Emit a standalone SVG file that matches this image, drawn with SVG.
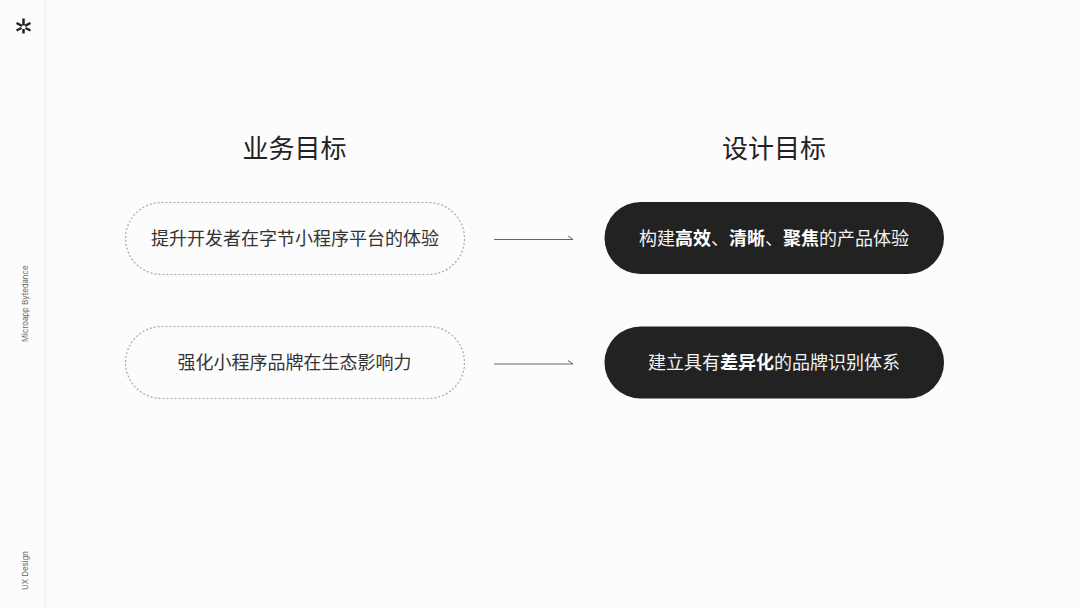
<svg xmlns="http://www.w3.org/2000/svg" width="1080" height="608" viewBox="0 0 1080 608">
<style>
text{font-family:"Noto Sans CJK SC","Liberation Sans",sans-serif}
.h{font-size:26px;fill:#222;text-anchor:middle}
.l{font-size:18px;fill:#333;text-anchor:middle}
.d{font-size:18px;fill:#f2f2f2;text-anchor:middle}
.d tspan{font-weight:700;fill:#fff}
.s{font-family:"Inter","Liberation Sans",sans-serif;font-size:7.800px;fill:#666}
.o{fill:none;stroke:#a8a8a8;stroke-width:1.200;stroke-dasharray:2 2}
.f{fill:#222}
.c{fill:none;stroke:#666;stroke-width:1}
</style>
<rect width="1080" height="608" fill="#fcfcfc"/>
<rect x="44" y="0" width="2" height="608" fill="#f4f4f4"/>
<g id="logo" fill="none" stroke="#222" stroke-width="2.500">
<path d="M23.500 18.500V25.500M16.500 23L22 25.800M30.500 23L25 25.800M23.500 29V33.500M21.500 28L16.500 30.500M25.500 28L30.500 30.500"/>
</g>
<text class="s" transform="translate(28,342) rotate(-90)">Microapp Bytedance</text>
<text class="s" transform="translate(28,590) rotate(-90)">UX Design</text>
<text class="h" x="294.500" y="158">业务目标</text>
<text class="h" x="774" y="158">设计目标</text>
<g id="connectors">
<path class="c" d="M494 239.500H573L568 236"/>
<path class="c" d="M494 364H573L568 360.500"/>
</g>
<g id="n1"><rect class="o" x="125.500" y="202.500" width="339" height="72" rx="36"/><text class="l" x="295" y="245">提升开发者在字节小程序平台的体验</text></g>
<g id="n2"><rect class="o" x="125.500" y="326.500" width="339" height="72" rx="36"/><text class="l" x="294.500" y="369">强化小程序品牌在生态影响力</text></g>
<g id="n3"><rect class="f" x="604.500" y="202" width="339.500" height="72" rx="36"/><text class="d" x="774" y="245">构建<tspan>高效</tspan>、<tspan>清晰</tspan>、<tspan>聚焦</tspan>的产品体验</text></g>
<g id="n4"><rect class="f" x="604.500" y="326.500" width="339.500" height="72" rx="36"/><text class="d" x="774" y="369">建立具有<tspan>差异化</tspan>的品牌识别体系</text></g>
</svg>
